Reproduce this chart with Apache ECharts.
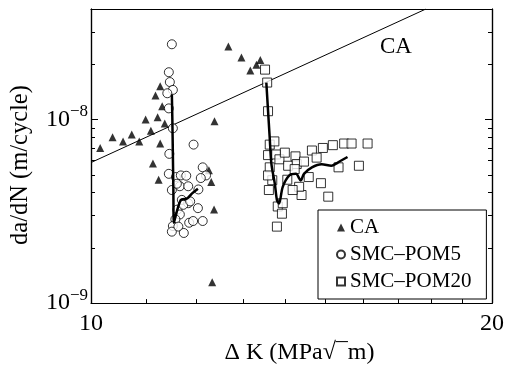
<!DOCTYPE html>
<html>
<head>
<meta charset="utf-8">
<script src="https://cdn.jsdelivr.net/npm/echarts@6/dist/echarts.min.js"></script>
<style>
  html, body { margin: 0; padding: 0; background: #fff; }
  #chart { width: 507px; height: 370px; }
</style>
</head>
<body>
<div id="chart"></div>
<script>
// values (delta K in MPa*sqrt(m), da/dN in m/cycle)
const caDK = [10.16, 10.38, 10.57, 10.73, 10.87, 10.99, 11.09, 11.13, 11.22, 11.27, 11.24, 11.18, 11.27, 11.31, 11.36,
    12.38, 12.68, 12.97, 13.17, 13.31, 13.40, 12.26, 12.31, 12.37, 12.33];
const caRate = [7.0e-9, 8.0e-9, 7.6e-9, 8.3e-9, 7.6e-9, 1.0e-8, 8.7e-9, 5.76e-9, 1.03e-8, 7.4e-9, 4.7e-9, 1.35e-8, 1.52e-8, 1.18e-8, 9.5e-9,
    9.8e-9, 2.5e-8, 2.18e-8, 1.85e-8, 1.99e-8, 2.11e-8, 5.3e-9, 4.57e-9, 3.23e-9, 1.3e-9];

const pom5DK = [11.50, 11.44, 11.46, 11.52, 11.41, 11.44, 11.52, 11.45, 11.94, 11.44, 11.50, 11.58, 11.66, 11.68, 11.79, 11.83,
    11.70, 11.83, 12.04, 12.13, 12.20, 12.09, 12.03, 11.61, 11.66, 11.57, 11.52, 11.50, 11.63, 11.74, 11.85, 11.93, 12.13,
    11.73, 11.60, 11.87];
const pom5Rate = [2.57e-8, 1.81e-8, 1.60e-8, 1.45e-8, 1.39e-8, 1.15e-8, 8.96e-9, 6.5e-9, 7.3e-9, 5.06e-9, 4.13e-9, 4.86e-9, 4.33e-9, 4.96e-9, 4.94e-9, 4.33e-9,
    3.65e-9, 3.50e-9, 4.16e-9, 5.49e-9, 4.96e-9, 4.8e-9, 3.29e-9, 3.23e-9, 3.04e-9, 2.86e-9, 2.63e-9, 2.45e-9, 2.61e-9, 2.41e-9, 2.74e-9, 2.80e-9, 2.80e-9,
    3.43e-9, 4.47e-9, 3.58e-9];

const pom20DK = [13.51, 13.56, 13.58, 13.62, 13.73, 13.58, 13.77, 13.85, 13.98, 14.06, 14.24, 14.27, 14.45, 14.22, 14.65, 14.77,
    14.93, 15.19, 15.49, 15.69, 16.13, 15.34, 15.89, 14.88, 15.07, 14.57, 14.39, 14.33, 14.17, 13.62, 13.68, 13.58, 13.60,
    13.81, 13.93, 13.91, 13.79, 14.04];
const pom20Rate = [1.87e-8, 1.59e-8, 1.11e-8, 7.3e-9, 7.6e-9, 6.4e-9, 6.45e-9, 6.07e-9, 6.6e-9, 5.6e-9, 6.3e-9, 5.72e-9, 5.9e-9, 5.37e-9, 6.78e-9, 6.2e-9,
    7.0e-9, 7.25e-9, 7.4e-9, 7.4e-9, 7.4e-9, 5.49e-9, 5.6e-9, 4.5e-9, 3.8e-9, 4.86e-9, 3.88e-9, 4.3e-9, 4.13e-9, 5.49e-9, 4.67e-9, 4.96e-9, 4.13e-9,
    3.36e-9, 3.5e-9, 3.07e-9, 2.61e-9, 4.7e-9];

// trend curves
const pom5CurveDK = [11.50, 11.51, 11.52, 11.53, 11.54, 11.68, 11.81, 11.91, 12.03];
const pom5CurveRate = [1.37e-8, 1.0e-8, 6.5e-9, 4.2e-9, 2.74e-9, 3.65e-9, 3.72e-9, 3.96e-9, 4.2e-9];
const pom20CurveDK = [13.54, 13.62, 13.66, 13.74, 13.79, 13.84, 13.93, 14.09, 14.25, 14.37, 14.45, 14.65, 14.90, 15.15, 15.32, 15.58];
const pom20CurveRate = [1.59e-8, 7.92e-9, 5.71e-9, 4.47e-9, 3.65e-9, 3.49e-9, 4.30e-9, 4.96e-9, 5.06e-9, 4.66e-9, 5.06e-9, 5.49e-9, 5.71e-9, 5.60e-9, 5.83e-9, 6.25e-9];

// constant amplitude reference line
const caLineDK = [10, 17.84];
const caLineRate = [5.83e-9, 4.0e-8];

// axes
const xMin = 10, xMax = 20;
const yMin = 1e-9, yMax = 4e-8;
const xMinorTicks = [11, 12, 13, 14, 15, 16, 17, 18, 19];
const xLabelValues = [10, 20];
const yMinorTicks = [2e-9, 3e-9, 4e-9, 5e-9, 6e-9, 7e-9, 8e-9, 9e-9, 2e-8, 3e-8];
const yMajorTicks = [1e-8];
const yLabelValues = [1e-9, 1e-8];

const lg = Math.log10;
const pairs = (xs, ys) => xs.map((x, i) => [lg(x), lg(ys[i])]);

const FONT = '"Liberation Serif", "DejaVu Serif", serif';
const black = '#000';

const baseY = (extra) => Object.assign({
    type: 'value',
    min: lg(yMin),
    max: lg(yMax),
    splitLine: { show: false },
    axisLine: { show: true, lineStyle: { color: black, width: 1.2 } },
    axisLabel: { show: false }
}, extra);

const chart = echarts.init(document.getElementById('chart'), null, { renderer: 'canvas' });

chart.setOption({
    animation: false,
    backgroundColor: '#fff',
    grid: { left: 83, right: 12, top: 9, bottom: 61 },
    xAxis: [
        {
            type: 'value',
            position: 'bottom',
            min: lg(xMin),
            max: lg(xMax),
            splitLine: { show: false },
            axisLine: { lineStyle: { color: black, width: 1.2 } },
            axisTick: { inside: true, length: 4, lineStyle: { color: black }, customValues: xMinorTicks.map(lg) },
            axisLabel: {
                customValues: xLabelValues.map(lg),
                formatter: (v) => String(Math.round(Math.pow(10, v))),
                color: black,
                fontFamily: FONT,
                fontSize: 24,
                margin: 9,
                showMinLabel: true,
                showMaxLabel: true
            },
            name: 'Δ K (MPa√¯m)',
            nameLocation: 'middle',
            nameGap: 36,
            nameTextStyle: { color: black, fontFamily: FONT, fontSize: 24, padding: [0, 0, 0, 16] }
        },
        {
            type: 'value',
            position: 'top',
            min: lg(xMin),
            max: lg(xMax),
            splitLine: { show: false },
            axisLine: { show: true, lineStyle: { color: black, width: 1.2 } },
            axisTick: { show: false },
            axisLabel: { show: false }
        }
    ],
    yAxis: [
        baseY({
            position: 'left',
            axisTick: { inside: true, length: 4, lineStyle: { color: black }, customValues: yMinorTicks.map(lg) },
            axisLabel: {
                show: true,
                customValues: yLabelValues.map(lg),
                formatter: (v) => '{b|10}{s|−' + Math.abs(Math.round(v)) + '}',
                margin: 3,
                rich: {
                    b: { fontFamily: FONT, fontSize: 24, color: black },
                    s: { fontFamily: FONT, fontSize: 17, color: black, padding: [0, 0, 16, 0] }
                }
            },
            name: 'da/dN (m/cycle)',
            nameLocation: 'middle',
            nameGap: 58,
            nameTextStyle: { color: black, fontFamily: FONT, fontSize: 24.5, padding: [0, 18, 0, 0] }
        }),
        baseY({
            position: 'right',
            axisTick: { inside: true, length: 4, lineStyle: { color: black }, customValues: yMinorTicks.map(lg) }
        }),
        baseY({
            position: 'left',
            axisTick: { inside: true, length: 7, lineStyle: { color: black }, customValues: yMajorTicks.map(lg) }
        }),
        baseY({
            position: 'right',
            axisTick: { inside: true, length: 7, lineStyle: { color: black }, customValues: yMajorTicks.map(lg) }
        })
    ],
    legend: {
        orient: 'vertical',
        left: 318,
        top: 210,
        padding: [7, 15, 7, 18],
        itemGap: 6,
        itemWidth: 8,
        itemHeight: 8,
        borderColor: black,
        borderWidth: 1,
        backgroundColor: '#fff',
        data: ['CA', 'SMC–POM5', 'SMC–POM20'],
        textStyle: { color: black, fontFamily: FONT, fontSize: 21 }
    },
    graphic: [{
        type: 'text',
        left: 380,
        top: 35,
        style: { text: 'CA', fill: black, font: '23px ' + FONT }
    }],
    series: [
        {
            name: 'CA line',
            type: 'line',
            data: pairs(caLineDK, caLineRate),
            showSymbol: false,
            lineStyle: { color: black, width: 1 },
            silent: true,
            z: 1
        },
        {
            name: 'CA',
            type: 'scatter',
            symbol: 'triangle',
            symbolSize: 8,
            data: pairs(caDK, caRate),
            itemStyle: { color: black },
            z: 3
        },
        {
            name: 'SMC–POM5',
            type: 'scatter',
            symbol: 'circle',
            symbolSize: 9,
            data: pairs(pom5DK, pom5Rate),
            itemStyle: { color: '#fff', borderColor: black, borderWidth: 1 },
            z: 3
        },
        {
            name: 'SMC–POM20',
            type: 'scatter',
            symbol: 'rect',
            symbolSize: 9,
            data: pairs(pom20DK, pom20Rate),
            itemStyle: { color: '#fff', borderColor: black, borderWidth: 1 },
            z: 3
        },
        {
            name: 'POM5 trend',
            type: 'line',
            data: pairs(pom5CurveDK, pom5CurveRate),
            showSymbol: false,
            smooth: 0.3,
            lineStyle: { color: black, width: 2.5 },
            silent: true,
            z: 4
        },
        {
            name: 'POM20 trend',
            type: 'line',
            data: pairs(pom20CurveDK, pom20CurveRate),
            showSymbol: false,
            smooth: 0.3,
            lineStyle: { color: black, width: 2.5 },
            silent: true,
            z: 4
        }
    ]
});
</script>
</body>
</html>
